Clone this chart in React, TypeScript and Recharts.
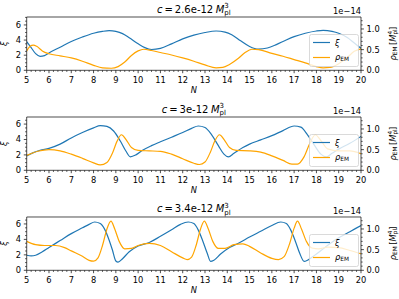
import React from "react";
import { LineChart, Line, XAxis, YAxis, Legend, ReferenceLine } from "recharts";

const FONT = "'DejaVu Sans', sans-serif";
const BLUE = "#1f77b4";
const ORANGE = "#ffa500";

// tick labels
const nTicks = [5, 6, 7, 8, 9, 10, 11, 12, 13, 14, 15, 16, 17, 18, 19, 20];
const xiTicks = [0, 2, 4, 6];
const rhoTicks = [0, 0.5, 1.0];
const couplings = ["2.6e-12", "3e-12", "3.4e-12"];

// panel 1: c = 2.6e-12
const xiN1 = [5.0, 5.2, 5.4, 5.6, 5.8, 6.0, 6.5, 7.0, 7.5, 8.0, 8.4, 8.7, 9.0, 9.3, 9.6, 10.0, 10.3, 10.6, 11.0, 11.5, 12.0, 12.5, 13.0, 13.5, 13.9, 14.2, 14.6, 15.0, 15.4, 15.8, 16.2, 16.6, 17.0, 17.5, 18.0, 18.3, 18.7, 19.0, 19.4, 19.7, 20.0];
const xi1 = [3.8, 3.0, 2.2, 1.85, 1.95, 2.3, 3.05, 3.8, 4.4, 4.9, 5.15, 5.25, 5.15, 4.85, 4.3, 3.5, 3.0, 2.75, 2.9, 3.5, 4.15, 4.65, 5.0, 5.2, 5.05, 4.7, 3.9, 3.15, 2.8, 2.95, 3.4, 3.95, 4.45, 4.9, 5.2, 5.28, 5.15, 4.9, 4.3, 3.6, 2.9];
const rhoN1 = [5.0, 5.15, 5.3, 5.45, 5.7, 6.0, 6.5, 7.0, 7.5, 8.0, 8.4, 8.8, 9.1, 9.4, 9.7, 10.0, 10.25, 10.6, 11.0, 11.5, 12.0, 12.5, 13.0, 13.5, 13.8, 14.1, 14.5, 14.8, 15.1, 15.4, 16.0, 16.5, 17.0, 17.5, 18.0, 18.3, 18.6, 19.0, 19.4, 19.7, 20.0];
const rho1 = [0.47, 0.58, 0.61, 0.58, 0.47, 0.4, 0.35, 0.3, 0.22, 0.12, 0.06, 0.05, 0.09, 0.2, 0.36, 0.47, 0.51, 0.48, 0.43, 0.37, 0.3, 0.22, 0.13, 0.06, 0.07, 0.14, 0.29, 0.43, 0.51, 0.5, 0.41, 0.34, 0.26, 0.18, 0.09, 0.06, 0.07, 0.16, 0.32, 0.46, 0.52];

// panel 2: c = 3e-12
const xiN2 = [5.0, 5.3, 5.6, 6.0, 6.5, 7.0, 7.5, 8.0, 8.3, 8.6, 8.9, 9.2, 9.45, 9.65, 9.9, 10.2, 10.6, 11.0, 11.5, 12.0, 12.4, 12.7, 13.0, 13.3, 13.6, 13.85, 14.05, 14.3, 14.7, 15.0, 15.5, 16.0, 16.5, 17.0, 17.3, 17.6, 17.9, 18.2, 18.45, 18.7, 19.0, 19.5, 20.0];
const xi2 = [1.85, 2.3, 2.6, 2.85, 3.4, 4.2, 4.9, 5.5, 5.8, 5.7, 5.1, 3.8, 2.5, 1.75, 2.0, 2.6, 3.2, 3.7, 4.3, 4.9, 5.45, 5.75, 5.55, 4.6, 3.2, 2.1, 1.75, 2.2, 2.95, 3.4, 3.95, 4.5, 5.15, 5.75, 5.6, 4.6, 3.3, 2.1, 1.75, 2.2, 2.75, 3.5, 4.4];
const rhoN2 = [5.0, 5.5, 6.0, 6.5, 7.0, 7.5, 8.0, 8.3, 8.6, 8.85, 9.05, 9.25, 9.45, 9.7, 10.0, 10.5, 11.0, 11.5, 12.0, 12.5, 12.75, 13.0, 13.25, 13.45, 13.65, 13.85, 14.1, 14.4, 15.0, 15.5, 16.0, 16.5, 16.9, 17.15, 17.45, 17.7, 17.95, 18.2, 18.5, 19.0, 19.5, 20.0];
const rho2 = [0.36, 0.46, 0.5, 0.47, 0.39, 0.29, 0.18, 0.13, 0.19, 0.42, 0.7, 0.86, 0.75, 0.55, 0.48, 0.47, 0.46, 0.39, 0.28, 0.17, 0.14, 0.2, 0.45, 0.72, 0.86, 0.75, 0.55, 0.48, 0.47, 0.44, 0.35, 0.24, 0.15, 0.15, 0.33, 0.65, 0.86, 0.72, 0.52, 0.47, 0.47, 0.4];

// panel 3: c = 3.4e-12
const xiN3 = [5.0, 5.2, 5.4, 5.7, 6.0, 6.5, 7.0, 7.5, 7.8, 8.05, 8.3, 8.5, 8.7, 8.85, 9.0, 9.1, 9.3, 9.6, 10.0, 10.5, 11.0, 11.5, 11.9, 12.25, 12.5, 12.7, 12.9, 13.1, 13.25, 13.4, 13.7, 14.1, 14.5, 15.0, 15.5, 16.0, 16.4, 16.65, 16.85, 17.05, 17.25, 17.45, 17.6, 17.9, 18.4, 19.0, 19.5, 20.0];
const xi3 = [1.95, 1.88, 1.95, 2.4, 2.95, 3.85, 4.75, 5.5, 5.95, 6.25, 6.05, 5.3, 3.9, 2.6, 1.2, 1.05, 1.5, 2.4, 3.15, 3.6, 4.4, 5.25, 5.95, 6.25, 6.05, 5.2, 3.8, 2.2, 1.15, 1.3, 2.1, 2.95, 3.5, 4.3, 5.05, 5.8, 6.25, 6.05, 5.2, 3.8, 2.2, 1.15, 1.3, 1.9, 3.0, 4.2, 5.0, 5.8];
const rhoN3 = [5.0, 5.4, 5.8, 6.3, 6.7, 7.0, 7.5, 7.8, 8.0, 8.2, 8.4, 8.6, 8.78, 8.95, 9.15, 9.4, 9.7, 10.0, 10.5, 11.0, 11.5, 12.0, 12.2, 12.4, 12.6, 12.8, 12.97, 13.15, 13.35, 13.6, 13.9, 14.3, 14.7, 15.0, 15.5, 16.0, 16.3, 16.55, 16.8, 17.0, 17.15, 17.33, 17.55, 17.8, 18.1, 18.5, 19.0, 19.5, 20.0];
const rho3 = [0.7, 0.62, 0.6, 0.6, 0.55, 0.47, 0.34, 0.24, 0.22, 0.3, 0.6, 1.0, 1.19, 1.0, 0.7, 0.52, 0.53, 0.6, 0.65, 0.6, 0.45, 0.3, 0.26, 0.32, 0.6, 1.0, 1.19, 1.0, 0.7, 0.53, 0.53, 0.62, 0.64, 0.58, 0.42, 0.29, 0.26, 0.33, 0.65, 1.02, 1.19, 1.0, 0.7, 0.54, 0.52, 0.56, 0.55, 0.48, 0.4];

const xiTops = [7.05, 6.92, 6.9];
const rhoTop = 1.29;

const steps = (a: number, b: number, s: number) => {
  const out: number[] = [];
  for (let v = a; v <= b + 1e-9; v += s) out.push(Math.round(v * 100) / 100);
  return out;
};
const xMinor = steps(5, 20, 0.2);
const xiMinor = steps(0, 7, 0.5);
const rhoMinor = steps(0, 1.2, 0.1);

const near = (list: number[], v: number) => list.findIndex((t) => Math.abs(t - v) < 1e-6);

const txt = { fontFamily: FONT, fontSize: 8.3, fill: "#000" };

function XTick(props: any) {
  const { x, y, payload } = props;
  const i = near(nTicks, payload.value);
  if (i < 0) return <line x1={x} x2={x} y1={y} y2={y + 1.7} stroke="#000" strokeWidth={0.6} />;
  return (
    <g>
      <line x1={x} x2={x} y1={y} y2={y + 2.9} stroke="#000" strokeWidth={0.7} />
      <text x={x} y={y + 12.4} textAnchor="middle" {...txt}>{nTicks[i]}</text>
    </g>
  );
}

function XiTick(props: any) {
  const { x, y, payload } = props;
  const i = near(xiTicks, payload.value);
  if (i < 0) return <line x1={x - 1.7} x2={x} y1={y} y2={y} stroke="#000" strokeWidth={0.6} />;
  return (
    <g>
      <line x1={x - 2.9} x2={x} y1={y} y2={y} stroke="#000" strokeWidth={0.7} />
      <text x={x - 5.6} y={y + 3} textAnchor="end" {...txt}>{xiTicks[i]}</text>
    </g>
  );
}

function RhoTick(props: any) {
  const { x, y, payload } = props;
  const i = near(rhoTicks, payload.value);
  if (i < 0) return <line x1={x} x2={x + 1.7} y1={y} y2={y} stroke="#000" strokeWidth={0.6} />;
  return (
    <g>
      <line x1={x} x2={x + 2.9} y1={y} y2={y} stroke="#000" strokeWidth={0.7} />
      <text x={x + 5.6} y={y + 3} textAnchor="start" {...txt}>{rhoTicks[i].toFixed(1)}</text>
    </g>
  );
}

function LegendBox() {
  return (
    <svg width={50} height={33} style={{ display: "block" }}>
      <rect x={0.5} y={0.5} width={49} height={32} rx={2} fill="#fff" fillOpacity={0.8} stroke="#d0d0d0" strokeWidth={0.8} />
      <line x1={4} x2={21} y1={8.5} y2={8.5} stroke={BLUE} strokeWidth={1.2} />
      <text x={26} y={11.5} {...txt} fontStyle="italic">ξ</text>
      <line x1={4} x2={21} y1={23.5} y2={23.5} stroke={ORANGE} strokeWidth={1.2} />
      <text x={26} y={25.5} {...txt}>
        <tspan fontStyle="italic">ρ</tspan>
        <tspan fontSize={5.8} dy={1.5}>EM</tspan>
      </text>
    </svg>
  );
}

const PLOT_TOP = 17;
const PLOT_H = 53.3;

function Panel({ top, height, xiTop, xiN, xi, rhoN, rho }: any) {
  const xiData = xiN.map((N: number, i: number) => ({ N, v: xi[i] }));
  const rhoData = rhoN.map((N: number, i: number) => ({ N, v: rho[i] }));
  const spine = { stroke: "#000", strokeWidth: 0.7 };
  return (
    <div style={{ position: "absolute", left: 0, top }}>
      <LineChart width={399} height={height} margin={{ top: PLOT_TOP, right: 0, bottom: 0, left: 0 }}>
        <XAxis dataKey="N" type="number" domain={[5, 20]} allowDataOverflow ticks={xMinor} interval={0}
          tickSize={0} tickMargin={0} tickLine={false} tick={<XTick />} axisLine={spine}
          height={height - PLOT_TOP - PLOT_H} />
        <YAxis yAxisId="xi" type="number" domain={[0, xiTop]} allowDataOverflow width={26.7}
          ticks={xiMinor.filter((t) => t <= xiTop)} interval={0} tickSize={0} tickMargin={0}
          tickLine={false} tick={<XiTick />} axisLine={spine} />
        <YAxis yAxisId="rho" orientation="right" type="number" domain={[0, rhoTop]} allowDataOverflow width={38}
          ticks={rhoMinor} interval={0} tickSize={0} tickMargin={0}
          tickLine={false} tick={<RhoTick />} axisLine={spine} />
        <ReferenceLine yAxisId="xi" y={xiTop} stroke="#000" strokeWidth={0.7} />
        <Line yAxisId="xi" data={xiData} dataKey="v" name="ξ" type="monotone" dot={false}
          stroke={BLUE} strokeWidth={1.2} isAnimationActive={false} />
        <Line yAxisId="rho" data={rhoData} dataKey="v" name="ρEM" type="monotone" dot={false}
          stroke={ORANGE} strokeWidth={1.2} isAnimationActive={false} />
        <Legend layout="vertical" align="center" verticalAlign="middle" content={() => <LegendBox />}
          wrapperStyle={{ left: 309, top: 34, width: 50, height: 33 }} />
      </LineChart>
    </div>
  );
}

const panelTops = [0, 100, 199.7];
const panelHeights = [100, 100, 99.3];

function Texts() {
  const cx = (26.7 + 361) / 2;
  return (
    <svg width={399} height={299} style={{ position: "absolute", left: 0, top: 0, pointerEvents: "none" }}>
      {panelTops.map((pt, i) => {
        const T = pt + PLOT_TOP;
        const B = T + PLOT_H;
        const yc = (T + B) / 2;
        return (
          <g key={i}>
            <text x={cx} y={T - 4.5} textAnchor="middle" fontFamily={FONT} fontSize={10} fill="#000">
              <tspan fontStyle="italic">c</tspan>
              <tspan dx={2}>=</tspan>
              <tspan dx={2}>{couplings[i]}</tspan>
              <tspan dx={2.5} fontStyle="italic">M</tspan>
              <tspan fontSize={7} dy={2.5}>pl</tspan>
              <tspan fontSize={7} dx={-6.4} dy={-7}>3</tspan>
            </text>
            <text x={361} y={T - 3} textAnchor="end" {...txt}>1e−14</text>
            <text x={cx} y={B + 23} textAnchor="middle" {...txt} fontStyle="italic">N</text>
            <text x={7.5} y={yc} transform={`rotate(-90 7.5 ${yc})`} textAnchor="middle" {...txt} fontStyle="italic">ξ</text>
            <text x={396} y={yc} transform={`rotate(-90 396 ${yc})`} textAnchor="middle" {...txt}>
              <tspan fontStyle="italic">ρ</tspan>
              <tspan fontSize={5.8} dy={1.5}>EM</tspan>
              <tspan dy={-1.5} dx={1.5}>[</tspan>
              <tspan fontStyle="italic">M</tspan>
              <tspan fontSize={5.8} dy={1.5}>pl</tspan>
              <tspan fontSize={5.8} dx={-5.3} dy={-5}>4</tspan>
              <tspan dy={3.5} dx={0.8}>]</tspan>
            </text>
          </g>
        );
      })}
    </svg>
  );
}

export default function App() {
  const xiNs = [xiN1, xiN2, xiN3];
  const xis = [xi1, xi2, xi3];
  const rhoNs = [rhoN1, rhoN2, rhoN3];
  const rhos = [rho1, rho2, rho3];
  return (
    <div style={{ position: "absolute", left: 0, top: 0, width: 399, height: 299, overflow: "hidden", background: "#fff" }}>
      {panelTops.map((t, i) => (
        <Panel key={i} top={t} height={panelHeights[i]} xiTop={xiTops[i]}
          xiN={xiNs[i]} xi={xis[i]} rhoN={rhoNs[i]} rho={rhos[i]} />
      ))}
      <Texts />
    </div>
  );
}
